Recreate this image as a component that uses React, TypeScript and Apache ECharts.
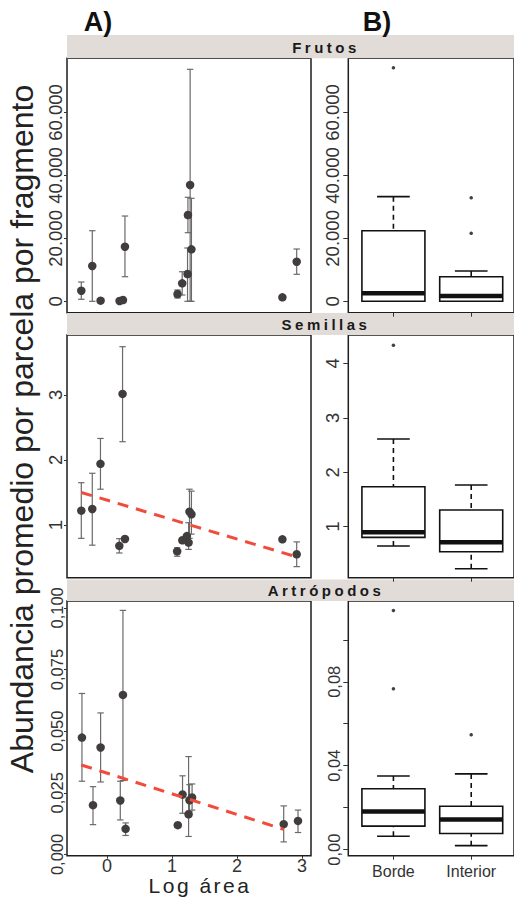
import React, { useEffect, useRef } from 'react';
import * as echarts from 'echarts';

// ---------- Data ----------
// Panel A: mean abundance per plot vs log area (with error bars)
const frutosX = [-0.395, -0.226, -0.098, 0.194, 0.246, 0.277, 1.086, 1.158, 1.24, 1.246, 1.28, 1.3, 2.7, 2.92];
const frutosY = [3370, 11220, 200, 100, 400, 17350, 2320, 5720, 8670, 27420, 36960, 16520, 1270, 12580];
const frutosLo = [640, 0, 200, 100, 400, 7820, 1050, 2000, 0, 21800, 0, 0, 700, 8580];
const frutosHi = [6130, 22430, 200, 100, 400, 27100, 3600, 9400, 16940, 33050, 73720, 32730, 1850, 16620];

const semillasX = [-0.395, -0.226, -0.1, 0.19, 0.24, 0.277, 1.08, 1.16, 1.23, 1.256, 1.27, 1.3, 2.7, 2.92];
const semillasY = [1.22, 1.246, 1.94, 0.68, 3.015, 0.785, 0.595, 0.765, 0.83, 0.73, 1.205, 1.165, 0.78, 0.55];
const semillasLo = [0.795, 0.69, 1.55, 0.57, 2.28, 0.76, 0.52, 0.73, 0.83, 0.625, 0.795, 0.86, 0.75, 0.36];
const semillasHi = [1.65, 1.795, 2.33, 0.79, 3.74, 0.81, 0.65, 0.79, 0.83, 1.035, 1.55, 1.52, 0.81, 0.74];
const semillasTrendX = [-0.395, 2.92];
const semillasTrendY = [1.5, 0.51];

const artroX = [-0.385, -0.215, -0.098, 0.205, 0.246, 0.287, 1.09, 1.163, 1.256, 1.27, 1.31, 2.72, 2.94];
const artroY = [0.0474, 0.02, 0.0434, 0.0219, 0.0647, 0.0104, 0.0119, 0.0243, 0.0163, 0.022, 0.0231, 0.0123, 0.0136];
const artroLo = [0.0297, 0.0121, 0.0294, 0.014, 0.03, 0.0077, 0.0112, 0.0167, 0.0073, 0.0175, 0.018, 0.0051, 0.0089];
const artroHi = [0.0653, 0.0275, 0.0574, 0.0297, 0.099, 0.0128, 0.0126, 0.0319, 0.0397, 0.0283, 0.0286, 0.0197, 0.018];
const artroTrendX = [-0.395, 2.72];
const artroTrendY = [0.0363, 0.0102];

// Panel B: boxplots Borde / Interior  [min, q1, median, q3, max]
const boxCategories = ['Borde', 'Interior'];
const frutosBorde = [0, 0, 2540, 22430, 33250];
const frutosInterior = [0, 0, 1680, 7820, 9630];
const frutosOutBorde = [74200];
const frutosOutInterior = [32920, 21600];

const semillasBorde = [0.646, 0.805, 0.897, 1.734, 2.61];
const semillasInterior = [0.229, 0.541, 0.714, 1.306, 1.765];
const semillasOutBorde = [4.33];
const semillasOutInterior: number[] = [];

const artroBorde = [0.0064, 0.0112, 0.0182, 0.029, 0.0351];
const artroInterior = [0.0019, 0.0077, 0.0144, 0.0207, 0.0361];
const artroOutBorde = [0.114, 0.0767];
const artroOutInterior = [0.0548];

// tick labels
const areaTicks = [0, 1, 2, 3];
const frutosTicks = [0, 20000, 40000, 60000];
const semillasATicks = [1, 2, 3];
const artroATicks = [0, 0.025, 0.05, 0.075, 0.1];
const semillasBTicks = [1, 2, 3, 4];
const artroBTicks = [0, 0.02, 0.04, 0.06, 0.08, 0.1];
const artroBLabels = [0, 0.04, 0.08];
const stripTitles = ['Frutos', 'Semillas', 'Artrópodos'];

// ---------- Layout ----------
const FONT = "'Liberation Sans', Arial, sans-serif";
const A_LEFT = 67, A_W = 244;
const B_LEFT = 348.3, B_W = 166;
const ROWS = [
  { top: 58.3, h: 254.4, stripTop: 35, stripH: 23.3 },
  { top: 335, h: 242.7, stripTop: 313, stripH: 22 },
  { top: 601, h: 254.7, stripTop: 579.5, stripH: 21.5 },
];

const fmtThousands = (v: number) => String(Math.round(v)).replace(/\B(?=(\d{3})+(?!\d))/g, '.');
const fmtComma = (d: number) => (v: number) => v.toFixed(d).replace('.', ',');

function App() {
  const ref = useRef<HTMLDivElement>(null);
  useEffect(() => {
    document.body.style.margin = '0';
    const chart = echarts.init(ref.current!, null, { renderer: 'svg' });

    const grids: any[] = [];
    ROWS.forEach((r) => {
      grids.push({ left: A_LEFT, top: r.top, width: A_W, height: r.h, show: true, borderColor: '#1e1e1e', borderWidth: 1.5, backgroundColor: '#fff', containLabel: false });
      grids.push({ left: B_LEFT, top: r.top, width: B_W, height: r.h, show: true, borderColor: '#1e1e1e', borderWidth: 1.5, backgroundColor: '#fff', containLabel: false });
    });

    const xAxes: any[] = [];
    const yAxes: any[] = [];
    const yCfg = [
      { a: { min: -3620, max: 77220, ticks: frutosTicks, labels: frutosTicks, fmt: fmtThousands, fs: 18.5 },
        b: { min: -3620, max: 77220, ticks: frutosTicks, labels: frutosTicks, fmt: fmtThousands, fs: 18.5 } },
      { a: { min: 0.19, max: 3.92, ticks: semillasATicks, labels: semillasATicks, fmt: (v: number) => String(v), fs: 18.5 },
        b: { min: 0.064, max: 4.52, ticks: semillasBTicks, labels: semillasBTicks, fmt: (v: number) => String(v), fs: 18.5 } },
      { a: { min: -0.0005, max: 0.1028, ticks: artroATicks, labels: artroATicks, fmt: fmtComma(3), fs: 16.5 },
        b: { min: -0.0029, max: 0.1185, ticks: artroBTicks, labels: artroBLabels, fmt: fmtComma(2), fs: 16.5 } },
    ];

    ROWS.forEach((r, ri) => {
      const last = ri === 2;
      // A x axis
      xAxes.push({
        type: 'value', gridIndex: ri * 2, min: -0.615, max: 3.14, position: 'bottom',
        axisLine: { show: false, onZero: false }, splitLine: { show: false },
        axisTick: { show: last, length: 3, customValues: areaTicks, lineStyle: { color: '#333' } },
        axisLabel: { show: last, customValues: areaTicks, fontSize: 18, lineHeight: 18, color: '#333', fontFamily: FONT, margin: 1 },
      });
      // B x axis
      xAxes.push({
        type: 'value', gridIndex: ri * 2 + 1, min: 0.42, max: 2.55, position: 'bottom',
        axisLine: { show: false, onZero: false }, splitLine: { show: false },
        axisTick: { show: true, length: 4, customValues: [1, 2], lineStyle: { color: '#333' } },
        axisLabel: { show: last, customValues: [1, 2], formatter: (v: number) => boxCategories[Math.round(v) - 1], fontSize: 16, color: '#333', fontFamily: FONT, margin: 8 },
      });
      const ca = yCfg[ri].a, cb = yCfg[ri].b;
      yAxes.push({
        type: 'value', gridIndex: ri * 2, min: ca.min, max: ca.max, position: 'left',
        axisLine: { show: false, onZero: false }, splitLine: { show: false },
        axisTick: { show: true, length: 3, customValues: ca.ticks, lineStyle: { color: '#333' } },
        axisLabel: { customValues: ca.labels, formatter: ca.fmt, rotate: 90, fontSize: ca.fs, color: '#333', fontFamily: FONT, margin: 2 },
      });
      yAxes.push({
        type: 'value', gridIndex: ri * 2 + 1, min: cb.min, max: cb.max, position: 'left',
        axisLine: { show: false, onZero: false }, splitLine: { show: false },
        axisTick: { show: true, length: 5, customValues: cb.ticks, lineStyle: { color: '#333' } },
        axisLabel: { customValues: cb.labels, formatter: cb.fmt, rotate: 90, fontSize: cb.fs, color: '#333', fontFamily: FONT, margin: 6 },
      });
    });

    const errRender = (params: any, api: any) => {
      const x = api.value(0), lo = api.value(1), hi = api.value(2);
      const pLo = api.coord([x, lo]);
      const pHi = api.coord([x, hi]);
      const cap = 3.2;
      const style = { stroke: '#6a6a6a', lineWidth: 1.2, fill: 'none' };
      return {
        type: 'group',
        children: [
          { type: 'line', shape: { x1: pLo[0], y1: pLo[1], x2: pHi[0], y2: pHi[1] }, style },
          { type: 'line', shape: { x1: pLo[0] - cap, y1: pLo[1], x2: pLo[0] + cap, y2: pLo[1] }, style },
          { type: 'line', shape: { x1: pHi[0] - cap, y1: pHi[1], x2: pHi[0] + cap, y2: pHi[1] }, style },
        ],
      };
    };

    const boxRender = (params: any, api: any) => {
      const x = api.value(0);
      const lo = api.value(1), q1 = api.value(2), med = api.value(3), q3 = api.value(4), hi = api.value(5);
      const hw = 0.405, cw = 0.21;
      const pTL = api.coord([x - hw, q3]);
      const pBR = api.coord([x + hw, q1]);
      const pMed = api.coord([x, med]);
      const pHi = api.coord([x, hi]);
      const pLo = api.coord([x, lo]);
      const cl = api.coord([x - cw, med])[0];
      const cr = api.coord([x + cw, med])[0];
      const solid = { stroke: '#111', lineWidth: 1.6, fill: 'none' };
      const dashed = { stroke: '#111', lineWidth: 1.6, fill: 'none', lineDash: [5, 4] };
      return {
        type: 'group',
        children: [
          { type: 'line', shape: { x1: pMed[0], y1: pHi[1], x2: pMed[0], y2: pTL[1] }, style: dashed },
          { type: 'line', shape: { x1: pMed[0], y1: pLo[1], x2: pMed[0], y2: pBR[1] }, style: dashed },
          { type: 'line', shape: { x1: cl, y1: pHi[1], x2: cr, y2: pHi[1] }, style: solid },
          { type: 'line', shape: { x1: cl, y1: pLo[1], x2: cr, y2: pLo[1] }, style: solid },
          { type: 'rect', shape: { x: pTL[0], y: pTL[1], width: pBR[0] - pTL[0], height: pBR[1] - pTL[1] }, style: { fill: '#fff', stroke: '#111', lineWidth: 1.6 } },
          { type: 'line', shape: { x1: pTL[0], y1: pMed[1], x2: pBR[0], y2: pMed[1] }, style: { stroke: '#111', lineWidth: 4.5 } },
        ],
      };
    };

    const panelsA = [
      { x: frutosX, y: frutosY, lo: frutosLo, hi: frutosHi, tx: null as number[] | null, ty: null as number[] | null },
      { x: semillasX, y: semillasY, lo: semillasLo, hi: semillasHi, tx: semillasTrendX, ty: semillasTrendY },
      { x: artroX, y: artroY, lo: artroLo, hi: artroHi, tx: artroTrendX, ty: artroTrendY },
    ];
    const panelsB = [
      { b: frutosBorde, i: frutosInterior, ob: frutosOutBorde, oi: frutosOutInterior },
      { b: semillasBorde, i: semillasInterior, ob: semillasOutBorde, oi: semillasOutInterior },
      { b: artroBorde, i: artroInterior, ob: artroOutBorde, oi: artroOutInterior },
    ];

    const series: any[] = [];
    panelsA.forEach((p, ri) => {
      const ai = ri * 2;
      series.push({
        type: 'custom', xAxisIndex: ai, yAxisIndex: ai, renderItem: errRender, z: 2,
        encode: { x: 0, y: [1, 2] },
        data: p.x.map((xv, k) => [xv, p.lo[k], p.hi[k]]).filter((d) => d[1] !== d[2]),
      });
      series.push({
        type: 'scatter', xAxisIndex: ai, yAxisIndex: ai, symbol: 'circle', symbolSize: 8.5, z: 3,
        itemStyle: { color: '#413d3d', opacity: 1 },
        data: p.x.map((xv, k) => [xv, p.y[k]]),
      });
      if (p.tx && p.ty) {
        series.push({
          type: 'line', xAxisIndex: ai, yAxisIndex: ai, showSymbol: false, symbol: 'none', z: 4,
          lineStyle: { color: '#f24b3b', width: 3, type: [11, 8] },
          data: p.tx.map((xv, k) => [xv, p.ty![k]]),
        });
      }
    });
    panelsB.forEach((p, ri) => {
      const bi = ri * 2 + 1;
      series.push({
        type: 'custom', xAxisIndex: bi, yAxisIndex: bi, renderItem: boxRender, z: 2,
        encode: { x: 0, y: [1, 2, 3, 4, 5] },
        data: [[1, ...p.b], [2, ...p.i]],
      });
      series.push({
        type: 'scatter', xAxisIndex: bi, yAxisIndex: bi, symbol: 'circle', symbolSize: 3.5, z: 3,
        itemStyle: { color: '#111' },
        data: [...p.ob.map((v) => [1, v]), ...p.oi.map((v) => [2, v])],
      });
    });

    const graphics: any[] = [];
    ROWS.forEach((r, ri) => {
      graphics.push({ type: 'rect', shape: { x: A_LEFT, y: r.stripTop, width: 514 - A_LEFT, height: r.stripH }, style: { fill: '#e1dcd8' }, z: 0 });
      graphics.push({
        type: 'text', x: 326, y: r.stripTop + r.stripH / 2 + 0.5, z: 1,
        style: { text: stripTitles[ri], font: `bold 15px ${FONT}`, fill: '#1a1a1a', align: 'center', verticalAlign: 'middle' },
      });
    });
    graphics.push({ type: 'text', x: 98, y: 22, style: { text: 'A)', font: `bold 27px ${FONT}`, fill: '#111', align: 'center', verticalAlign: 'middle' } });
    graphics.push({ type: 'text', x: 377, y: 22, style: { text: 'B)', font: `bold 27px ${FONT}`, fill: '#111', align: 'center', verticalAlign: 'middle' } });
    graphics.push({
      type: 'text', x: 22, y: 429, rotation: Math.PI / 2,
      style: { text: 'Abundancia promedio por parcela por fragmento', font: `32px ${FONT}`, fill: '#222', align: 'center', verticalAlign: 'middle' },
    });
    graphics.push({ type: 'text', x: 200, y: 885.5, style: { text: 'Log área', font: `21px ${FONT}`, fill: '#222', align: 'center', verticalAlign: 'middle' } });

    chart.setOption({
      animation: false,
      grid: grids,
      xAxis: xAxes,
      yAxis: yAxes,
      series,
      graphic: graphics,
    });

    // letter spacing as in the reference
    const spacing: Record<string, string> = { Frutos: '3.5', Semillas: '3.5', 'Artrópodos': '3.5', 'Log área': '2.5' };
    ref.current!.querySelectorAll('text').forEach((t) => {
      const s = spacing[t.textContent || ''];
      if (s) t.setAttribute('letter-spacing', s);
    });

    return () => chart.dispose();
  }, []);
  return <div ref={ref} style={{ width: 514, height: 897 }} />;
}

export default App;
